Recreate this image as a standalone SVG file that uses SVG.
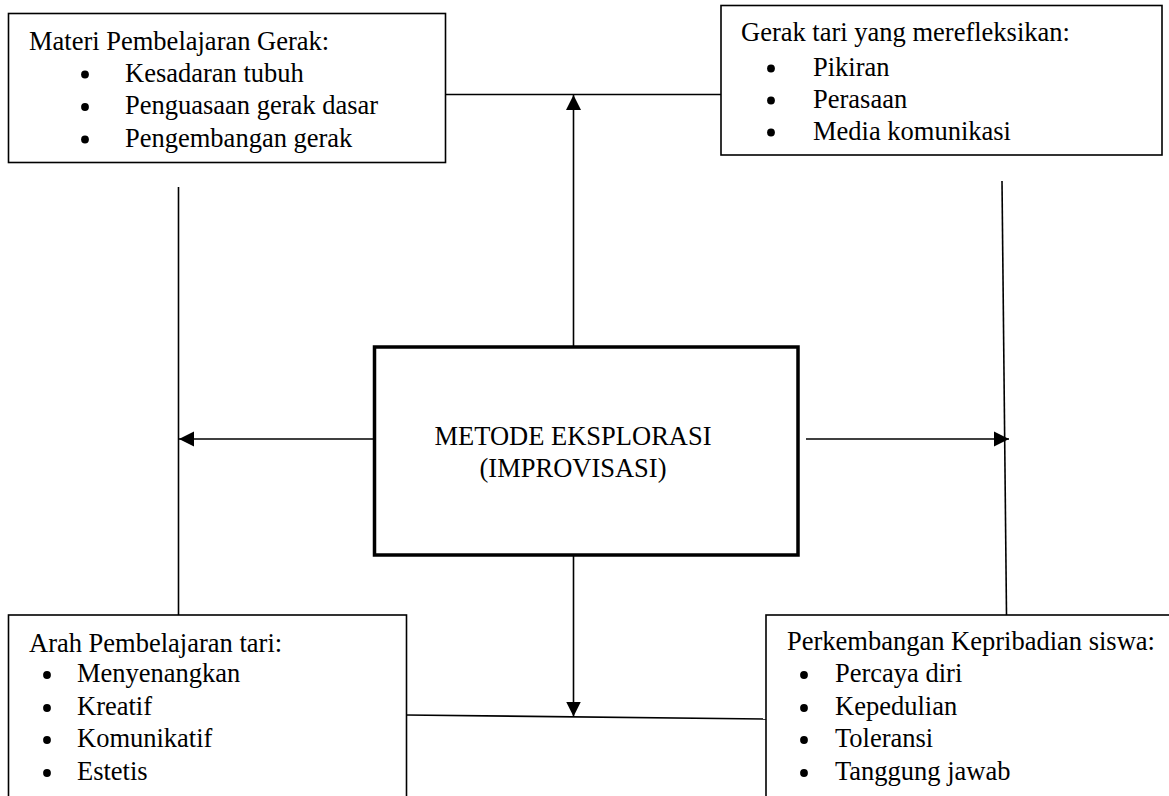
<svg xmlns="http://www.w3.org/2000/svg" width="1169" height="796" viewBox="0 0 1169 796">
<style>
.box{fill:#fff;stroke:#000;stroke-width:1.6}
.main{fill:#fff;stroke:#000;stroke-width:3.5}
.t{font-family:"Liberation Serif","Times New Roman",serif;font-size:26.5px;fill:#000}
.c{text-anchor:middle}
.ln{stroke:#000;stroke-width:1.6;fill:none}
.bl{fill:#000}
</style>
<defs>
<marker id="ah" viewBox="0 0 10 10" refX="10" refY="5" markerWidth="15" markerHeight="16" markerUnits="userSpaceOnUse" orient="auto">
<path d="M0,0 L10,5 L0,10 Z" fill="#000"/>
</marker>
</defs>
<g id="connectors">
<line class="ln" x1="445" y1="94.5" x2="721" y2="94.5"/>
<line class="ln" x1="178.5" y1="187" x2="178.5" y2="615"/>
<line class="ln" x1="1002" y1="181" x2="1006.5" y2="615"/>
<line class="ln" x1="406" y1="715" x2="766" y2="719"/>
<line class="ln" x1="573.5" y1="346" x2="573.5" y2="95" marker-end="url(#ah)"/>
<line class="ln" x1="573.5" y1="556" x2="573.5" y2="716.5" marker-end="url(#ah)"/>
<line class="ln" x1="374" y1="439" x2="179" y2="439" marker-end="url(#ah)"/>
<line class="ln" x1="806" y1="439" x2="1009" y2="439" marker-end="url(#ah)"/>
</g>
<g id="materi">
<rect class="box" x="8.5" y="13.5" width="437" height="149"/>
<text class="t" x="29" y="49.5">Materi Pembelajaran Gerak:</text>
<circle class="bl" cx="85" cy="74.5" r="3.9"/>
<circle class="bl" cx="85" cy="107" r="3.9"/>
<circle class="bl" cx="85" cy="139.5" r="3.9"/>
<text class="t" x="125" y="81.5">Kesadaran tubuh</text>
<text class="t" x="125" y="114">Penguasaan gerak dasar</text>
<text class="t" x="125" y="146.5">Pengembangan gerak</text>
</g>
<g id="gerak">
<rect class="box" x="721" y="5.5" width="441" height="149.5"/>
<text class="t" x="741" y="41">Gerak tari yang merefleksikan:</text>
<circle class="bl" cx="771" cy="68.5" r="3.9"/>
<circle class="bl" cx="771" cy="100.5" r="3.9"/>
<circle class="bl" cx="771" cy="132.5" r="3.9"/>
<text class="t" x="813" y="75.5">Pikiran</text>
<text class="t" x="813" y="107.5">Perasaan</text>
<text class="t" x="813" y="139.5">Media komunikasi</text>
</g>
<g id="metode">
<rect class="main" x="374.5" y="347" width="423.5" height="208"/>
<text class="t c" x="573" y="445">METODE EKSPLORASI</text>
<text class="t c" x="573" y="477">(IMPROVISASI)</text>
</g>
<g id="arah">
<rect class="box" x="8.5" y="615" width="398" height="200"/>
<text class="t" x="29" y="652">Arah Pembelajaran tari:</text>
<circle class="bl" cx="47" cy="675" r="3.9"/>
<circle class="bl" cx="47" cy="708" r="3.9"/>
<circle class="bl" cx="47" cy="740" r="3.9"/>
<circle class="bl" cx="47" cy="773" r="3.9"/>
<text class="t" x="77" y="682">Menyenangkan</text>
<text class="t" x="77" y="715">Kreatif</text>
<text class="t" x="77" y="747">Komunikatif</text>
<text class="t" x="77" y="780">Estetis</text>
</g>
<g id="perkembangan">
<rect class="box" x="766" y="615" width="420" height="200"/>
<text class="t" x="787" y="650">Perkembangan Kepribadian siswa:</text>
<circle class="bl" cx="804" cy="675" r="3.9"/>
<circle class="bl" cx="804" cy="708" r="3.9"/>
<circle class="bl" cx="804" cy="740" r="3.9"/>
<circle class="bl" cx="804" cy="773" r="3.9"/>
<text class="t" x="835" y="682">Percaya diri</text>
<text class="t" x="835" y="715">Kepedulian</text>
<text class="t" x="835" y="747">Toleransi</text>
<text class="t" x="835" y="780">Tanggung jawab</text>
</g>
</svg>
